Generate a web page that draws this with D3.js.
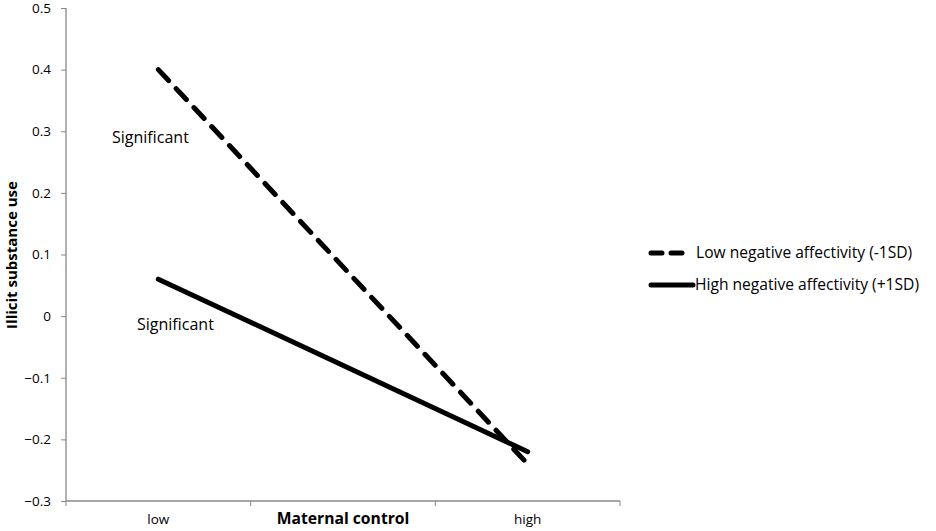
<!DOCTYPE html>
<html lang="en">
<head>
<meta charset="UTF-8">
<title>Illicit substance use by maternal control</title>
<style>
  body { margin: 0; background: #fff; }
  text { font-family: "Open Sans", "Noto Sans", sans-serif; fill: #000; }
</style>
</head>
<body>
<div id="chart"></div>
<script src="https://d3js.org/d3.v7.min.js"></script>
<script>
const width = 936
const height = 531

const categories = ['low', '', 'high']
const yTicks = [0.5, 0.4, 0.3, 0.2, 0.1, 0, -0.1, -0.2, -0.3]
const lowNA = [0.40, null, -0.24]
const highNA = [0.06, null, -0.22]
const seriesNames = ['Low negative affectivity (-1SD)', 'High negative affectivity (+1SD)']
const notes = ['Significant', 'Significant']

const svg = d3.select('#chart')
  .append('svg')
  .attr('width', width)
  .attr('height', height)

const x = d3.scaleBand().domain(categories).range([66, 620])
const y = d3.scaleLinear().domain([-0.3, 0.5]).range([501, 8])

const fmt = d => d === 0 ? '0' : d3.format('.1f')(d)

// y axis
const yAxis = svg.append('g')
  .attr('transform', 'translate(66,0)')
  .call(d3.axisLeft(y).tickValues(yTicks).tickFormat(fmt).tickSize(5).tickPadding(10))
yAxis.select('.domain').attr('stroke', '#888').attr('stroke-width', 1.3).attr('d', `M0,${y(0.5)}V${y(-0.3)}`)
yAxis.selectAll('.tick line').attr('stroke', '#888')
yAxis.selectAll('.tick text').style('font-size', '13.5px')

// x axis
const xAxis = svg.append('g')
  .attr('transform', 'translate(0,501)')
  .call(d3.axisBottom(x).tickSize(0).tickPadding(13))
xAxis.select('.domain').attr('stroke', '#888').attr('stroke-width', 1.3).attr('d', `M66,0H620`)
xAxis.selectAll('.tick text').style('font-size', '13.5px')
const bounds = categories.map(c => x(c)).concat([x.range()[1]])
xAxis.selectAll('.xtick')
  .data(bounds)
  .enter()
  .append('line')
  .attr('class', 'xtick')
  .attr('x1', d => d).attr('x2', d => d)
  .attr('y1', 0).attr('y2', 5)
  .attr('stroke', '#888')

// axis titles
svg.append('text')
  .attr('transform', 'translate(17,255) rotate(-90)')
  .attr('text-anchor', 'middle')
  .style('font-size', '15px')
  .style('font-weight', 'bold')
  .text('Illicit substance use')

svg.append('text')
  .attr('x', 343).attr('y', 524)
  .attr('text-anchor', 'middle')
  .style('font-size', '15.7px')
  .style('font-weight', 'bold')
  .text('Maternal control')

const cx = c => x(c) + x.bandwidth() / 2
const pts = vals => categories.map((c, i) => [c, vals[i]]).filter(p => p[1] !== null)
const line = d3.line().x(p => cx(p[0])).y(p => y(p[1]))

svg.append('path')
  .datum(pts(highNA))
  .attr('d', line)
  .attr('fill', 'none')
  .attr('stroke', '#000')
  .attr('stroke-width', 5)
  .attr('stroke-linecap', 'round')

svg.append('path')
  .datum(pts(lowNA))
  .attr('d', line)
  .attr('fill', 'none')
  .attr('stroke', '#000')
  .attr('stroke-width', 5)
  .attr('stroke-linecap', 'round')
  .attr('stroke-dasharray', '15,11')

// significance notes
svg.append('text')
  .attr('x', 112).attr('y', 143)
  .style('font-size', '16px')
  .text(notes[0])
svg.append('text')
  .attr('x', 137).attr('y', 330)
  .style('font-size', '16px')
  .text(notes[1])

// legend
const legend = svg.append('g')
legend.append('line')
  .attr('x1', 651).attr('x2', 687).attr('y1', 253).attr('y2', 253)
  .attr('stroke', '#000').attr('stroke-width', 5)
  .attr('stroke-linecap', 'round').attr('stroke-dasharray', '11,9')
legend.append('text')
  .attr('x', 696).attr('y', 258)
  .style('font-size', '15.6px')
  .text(seriesNames[0])
legend.append('line')
  .attr('x1', 651).attr('x2', 693).attr('y1', 285).attr('y2', 285)
  .attr('stroke', '#000').attr('stroke-width', 5)
  .attr('stroke-linecap', 'round')
legend.append('text')
  .attr('x', 695).attr('y', 290)
  .style('font-size', '15.6px')
  .text(seriesNames[1])
</script>
</body>
</html>
